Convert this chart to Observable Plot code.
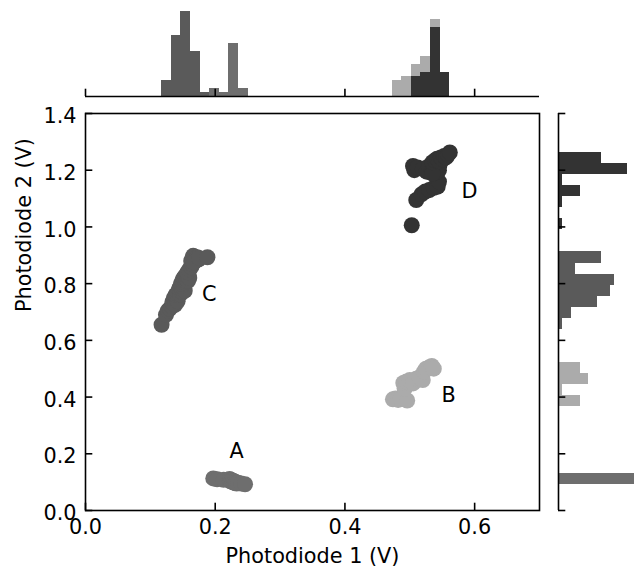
<!DOCTYPE html>
<html><head><meta charset="utf-8">
<script src="https://cdn.jsdelivr.net/npm/d3@7"></script>
<script src="https://cdn.jsdelivr.net/npm/@observablehq/plot@0.6"></script>
<style>
html,body{margin:0;padding:0;background:#fff;overflow:hidden;}
#chart{position:relative;width:634px;height:568px;}
#chart svg{position:absolute;left:0;top:0;}
</style></head><body><div id="chart"></div>
<script>
// ---- data ----
const groups = ["A", "B", "C", "D"];
const groupColors = ["#6e6e6e", "#ababab", "#5a5a5a", "#333333"];

const ptsA = [
  [0.197,0.113],[0.203,0.110],[0.213,0.108],
  [0.222,0.111],[0.223,0.104],[0.224,0.108],[0.225,0.102],[0.226,0.106],[0.227,0.100],
  [0.228,0.104],[0.229,0.098],[0.230,0.102],[0.231,0.097],[0.232,0.100],[0.233,0.095],[0.235,0.098],
  [0.240,0.095],[0.246,0.0926]
];
const ptsB = [
  [0.474,0.392],[0.478,0.395],[0.482,0.390],[0.486,0.394],[0.496,0.388],
  [0.492,0.430],
  [0.490,0.450],[0.495,0.455],[0.500,0.460],[0.505,0.448],[0.510,0.465],[0.515,0.470],[0.520,0.460],
  [0.522,0.490],[0.525,0.500],[0.530,0.505],[0.534,0.510],[0.537,0.500]
];
const ptsC = [
  [0.1173,0.655],
  [0.124,0.690],[0.127,0.705],[0.130,0.712],
  [0.133,0.720],[0.135,0.728],[0.134,0.735],[0.137,0.740],[0.136,0.748],[0.139,0.745],[0.140,0.752],[0.138,0.725],[0.142,0.738],
  [0.139,0.760],[0.141,0.765],[0.143,0.770],[0.144,0.778],[0.145,0.785],[0.146,0.762],
  [0.148,0.772],[0.149,0.780],[0.150,0.790],[0.152,0.786],[0.153,0.775],[0.148,0.792],
  [0.1475,0.800],[0.149,0.808],[0.150,0.815],[0.151,0.805],[0.152,0.822],[0.153,0.812],[0.154,0.828],
  [0.155,0.818],[0.156,0.832],[0.157,0.825],[0.158,0.810],[0.159,0.830],[0.160,0.820],
  [0.157,0.840],[0.160,0.850],[0.163,0.858],[0.165,0.868],
  [0.163,0.880],[0.165,0.890],[0.166,0.898],[0.168,0.895],[0.170,0.888],[0.172,0.893],[0.174,0.885],
  [0.167,0.875],[0.175,0.890],[0.188,0.893]
];
const ptsD = [
  [0.503,1.006],
  [0.510,1.095],
  [0.518,1.115],[0.524,1.125],[0.530,1.130],[0.537,1.138],[0.543,1.142],
  [0.545,1.160],
  [0.505,1.215],[0.507,1.200],[0.512,1.210],[0.520,1.205],[0.526,1.195],[0.530,1.215],
  [0.534,1.200],[0.536,1.215],[0.538,1.190],[0.540,1.205],[0.541,1.220],[0.543,1.195],
  [0.544,1.210],[0.545,1.200],[0.546,1.220],[0.535,1.188],
  [0.535,1.228],[0.539,1.235],[0.542,1.240],[0.545,1.232],[0.548,1.245],[0.551,1.238],
  [0.553,1.250],[0.556,1.245],[0.559,1.255],[0.5617,1.2626]
];

const xTicks = [0, 0.2, 0.4, 0.6];
const yTicks = [0, 0.2, 0.4, 0.6, 0.8, 1.0, 1.2, 1.4];
const labelNames = ["A", "B", "C", "D"];
const labelX = [0.233, 0.560, 0.191, 0.592];
const labelY = [0.208, 0.407, 0.762, 1.124];
const xLabel = "Photodiode 1 (V)";
const yLabel = "Photodiode 2 (V)";
const nBins = 30;
const stackOrder = ["D", "C", "A", "B"];

// ---- tables ----
const ptsBy = {A: ptsA, B: ptsB, C: ptsC, D: ptsD};
const points = groups.flatMap(g => ptsBy[g].map(([x, y]) => ({group: g, x, y})));

function histogram(key) {
  const [lo, hi] = d3.extent(points, d => d[key]);
  const w = (hi - lo) / nBins;
  const rows = [];
  const totals = new Array(nBins).fill(0);
  for (const g of stackOrder) {
    const counts = new Array(nBins).fill(0);
    for (const p of points) if (p.group === g) {
      counts[Math.min(nBins - 1, Math.floor((p[key] - lo) / w))]++;
    }
    counts.forEach((c, k) => {
      if (c > 0) { rows.push({group: g, b1: lo + k * w, b2: lo + (k + 1) * w, count: c}); totals[k] += c; }
    });
  }
  return {rows, max: d3.max(totals)};
}
const topHist = histogram("x");
const rightHist = histogram("y");

// ---- layout ----
const W = 634, H = 568;
const mL = 85, mR = 95, mT = 113, mB = 58;
const innerW = W - mL - mR, innerH = H - mT - mB;
const tickLen = 7.3, lw = 1.6;
const baseStyle = {background: "transparent", fontFamily: "DejaVu Sans", fontSize: "20.8px", color: "black"};
const colorScale = {domain: groups, range: groupColors};
const fmt = d => d.toFixed(1);

const main = Plot.plot({
  width: W, height: H,
  marginLeft: mL, marginRight: mR, marginTop: mT, marginBottom: mB,
  x: {domain: [0, 0.7], axis: null},
  y: {domain: [0, 1.4], axis: null},
  color: colorScale,
  style: baseStyle,
  marks: [
    Plot.dot(points, {x: "x", y: "y", r: 8, fill: "group"}),
    Plot.frame({stroke: "black", strokeWidth: lw}),
    Plot.ruleX(xTicks, {x: d => d, insetTop: innerH - tickLen, stroke: "black", strokeWidth: lw}),
    Plot.ruleY(yTicks, {y: d => d, insetRight: innerW - tickLen, stroke: "black", strokeWidth: lw}),
    Plot.text(xTicks, {x: d => d, frameAnchor: "bottom", lineAnchor: "top", dy: 9, text: fmt}),
    Plot.text(yTicks, {y: d => d, frameAnchor: "left", textAnchor: "end", dx: -9, dy: 3, text: fmt}),
    Plot.text(labelNames, {x: (d, i) => labelX[i], y: (d, i) => labelY[i], text: d => d}),
    Plot.text([xLabel], {frameAnchor: "bottom", lineAnchor: "bottom", dy: 52, text: d => d}),
    Plot.text([yLabel], {frameAnchor: "left", rotate: -90, lineAnchor: "bottom", dx: -55, text: d => d})
  ]
});

const topBase = 96, topTop = 6.7;
const topPlot = Plot.plot({
  width: W, height: H,
  marginLeft: mL, marginRight: mR, marginTop: topTop, marginBottom: H - topBase,
  x: {domain: [0, 0.7], axis: null},
  y: {domain: [0, topHist.max * 1.05], axis: null},
  color: colorScale,
  style: baseStyle,
  marks: [
    Plot.rectY(topHist.rows, {x1: "b1", x2: "b2", y: "count", fill: "group", inset: 0, shapeRendering: "crispEdges"}),
    Plot.ruleY([0], {stroke: "black", strokeWidth: lw}),
    Plot.ruleX(xTicks, {x: d => d, insetTop: (topBase - topTop) - tickLen, stroke: "black", strokeWidth: lw})
  ]
});

const rightLeft = 558, pxPerCount = 4.33;
const rightMax = rightHist.max * 1.05;
const rightPlot = Plot.plot({
  width: W, height: H,
  marginLeft: rightLeft, marginRight: W - (rightLeft + rightMax * pxPerCount), marginTop: mT, marginBottom: mB,
  x: {domain: [0, rightMax], axis: null},
  y: {domain: [0, 1.4], axis: null},
  color: colorScale,
  style: baseStyle,
  marks: [
    Plot.rectX(rightHist.rows, {y1: "b1", y2: "b2", x: "count", fill: "group", inset: 0, shapeRendering: "crispEdges"}),
    Plot.ruleX([0], {stroke: "black", strokeWidth: lw}),
    Plot.ruleY(yTicks, {y: d => d, insetRight: rightMax * pxPerCount - tickLen, stroke: "black", strokeWidth: lw})
  ]
});

const chart = document.getElementById("chart");
chart.append(topPlot, rightPlot, main);
</script></body></html>
